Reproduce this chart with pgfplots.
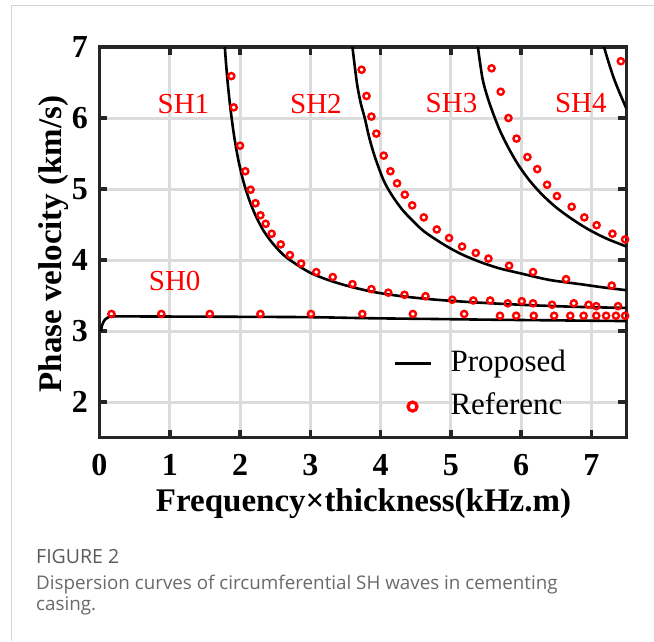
\documentclass[border=0pt]{standalone}
\usepackage{fontspec}
\setmainfont{Liberation Serif}
\newfontfamily\capfont{Open Sans}
\usepackage{pgfplots}
\pgfplotsset{compat=1.18}
\usepackage{pgfplotstable}

\definecolor{gridgray}{HTML}{DCDCDC}
\definecolor{axisgray}{HTML}{262626}
\definecolor{capdark}{HTML}{5A5A5A}
\definecolor{caplight}{HTML}{6A6A6A}
\definecolor{framegray}{HTML}{D4D4D4}

% legend samples: a short line, and a single bold circle
\pgfplotsset{
  lineleg/.style={legend image code/.code={%
      \draw[##1] (0pt,0pt) -- (36pt,0pt);
      \path[draw=none] (0pt,0pt) -- (50pt,0pt);}},
  markleg/.style={legend image code/.code={%
      \path[##1, mark size=4.5pt, mark options={line width=3.2pt}]
        plot[only marks] coordinates {(18pt,0pt)};
      \path[draw=none] (0pt,0pt) -- (56pt,0pt);}},
}

% Proposed dispersion curves (frequency x thickness, phase velocity)
\pgfplotstableread{
x y
0.02 3.00
0.04 3.09
0.07 3.15
0.12 3.19
0.20 3.205
0.60 3.205
1.20 3.203
2.00 3.200
3.00 3.195
3.85 3.18
4.70 3.17
5.50 3.16
6.50 3.15
7.50 3.14
}\curveSHzero

\pgfplotstableread{
x y
1.784 7.00
1.80 6.78
1.83 6.44
1.87 6.08
1.92 5.72
1.98 5.39
2.05 5.10
2.13 4.85
2.22 4.63
2.33 4.42
2.46 4.24
2.62 4.07
2.80 3.94
3.00 3.82
3.25 3.72
3.55 3.63
3.90 3.55
4.30 3.49
4.80 3.44
5.40 3.40
6.10 3.365
6.80 3.34
7.50 3.325
}\curveSHone

\pgfplotstableread{
x y
3.60 7.00
3.63 6.75
3.67 6.45
3.72 6.20
3.775 6.00
3.84 5.72
3.92 5.45
4.04 5.13
4.15 4.93
4.30 4.72
4.45 4.56
4.61 4.41
4.80 4.28
5.00 4.16
5.20 4.06
5.45 3.96
5.70 3.88
6.00 3.81
6.40 3.72
6.84 3.66
7.20 3.61
7.50 3.575
}\curveSHtwo

\pgfplotstableread{
x y
5.385 7.00
5.45 6.56
5.52 6.30
5.60 6.07
5.70 5.82
5.82 5.58
5.96 5.34
6.12 5.12
6.30 4.92
6.50 4.74
6.72 4.58
6.96 4.43
7.22 4.30
7.50 4.19
}\curveSHthree

\pgfplotstableread{
x y
7.18 7.00
7.25 6.77
7.32 6.56
7.40 6.36
7.50 6.13
}\curveSHfour

% Reference solutions
\pgfplotstableread{
x y
0.17 3.24
0.88 3.24
1.57 3.24
2.29 3.24
3.01 3.24
3.74 3.24
4.46 3.24
5.19 3.24
5.70 3.215
5.93 3.215
6.18 3.215
6.47 3.215
6.70 3.215
6.89 3.215
7.07 3.215
7.21 3.215
7.35 3.215
7.48 3.215
}\refSHzero

\pgfplotstableread{
x y
1.876 6.59
1.91 6.15
2.00 5.61
2.075 5.25
2.15 4.99
2.22 4.80
2.29 4.63
2.365 4.51
2.45 4.37
2.58 4.22
2.71 4.07
2.87 3.95
3.085 3.83
3.32 3.76
3.60 3.66
3.87 3.59
4.11 3.54
4.34 3.51
4.64 3.49
5.02 3.44
5.32 3.43
5.56 3.43
5.81 3.39
6.01 3.42
6.17 3.39
6.44 3.37
6.75 3.39
6.96 3.37
7.07 3.35
7.38 3.35
}\refSHone

\pgfplotstableread{
x y
3.73 6.68
3.80 6.31
3.87 6.02
3.94 5.78
4.045 5.47
4.14 5.25
4.235 5.08
4.345 4.92
4.45 4.77
4.615 4.60
4.80 4.43
4.975 4.31
5.16 4.19
5.355 4.10
5.535 4.02
5.83 3.92
6.17 3.83
6.64 3.73
7.29 3.64
}\refSHtwo

\pgfplotstableread{
x y
5.58 6.70
5.71 6.37
5.82 6.00
5.935 5.71
6.09 5.45
6.23 5.28
6.37 5.06
6.51 4.90
6.72 4.75
6.90 4.60
7.075 4.49
7.30 4.37
7.48 4.29
}\refSHthree

\pgfplotstableread{
x y
7.42 6.80
}\refSHfour

\begin{document}
\begin{tikzpicture}
\fill[white] (0,0) rectangle (654pt,-641pt);
\path[use as bounding box] (0,0) rectangle (654pt,-641pt);
\draw[framegray, line width=1pt] (11pt,-641pt) -- (11pt,-5pt) -- (654pt,-5pt);

\begin{axis}[
  at={(99.5pt,-437.5pt)}, anchor=south west,
  scale only axis, width=527pt, height=390.5pt,
  xmin=0, xmax=7.5, ymin=1.5, ymax=7,
  xtick={0,1,...,7}, ytick={2,3,...,7},
  grid=major,
  major grid style={gridgray, line width=3pt},
  axis line style={axisgray, line width=3.5pt},
  tick style={axisgray, line width=3.5pt},
  major tick length=8pt,
  tick align=inside,
  /pgf/number format/assume math mode=true,
  tick label style={font=\fontsize{32}{34}\selectfont\bfseries},
  xticklabel style={inner sep=0pt, yshift=-17pt},
  yticklabel style={inner sep=0pt, xshift=-11.5pt},
  xlabel={Frequency×thickness(kHz.m)},
  ylabel={Phase velocity (km/s)},
  xlabel style={at={(axis description cs:0.501,-0.168)}, anchor=center,
                font=\fontsize{33}{35}\selectfont\bfseries},
  ylabel style={at={(axis description cs:-0.088,0.4955)}, anchor=center,
                font=\fontsize{33}{35}\selectfont\bfseries},
  legend cell align=left,
  legend style={at={(axis description cs:0.557,0.227)}, anchor=north west,
                draw=none, fill=none, inner sep=0pt,
                font=\fontsize{31}{33}\selectfont,
                row sep=14pt, column sep=0pt,
                nodes={inner sep=0pt, text height=22pt, text depth=7pt}},
  curve/.style={black, line width=2.6pt, smooth, no marks},
  refpts/.style={only marks, mark=o, red, mark size=3.1pt,
                 mark options={line width=2.4pt}},
]
\addplot[curve, lineleg] table[x=x, y=y] {\curveSHzero};
\addlegendentry{Proposed}
\addplot[refpts, markleg] table[x=x, y=y] {\refSHzero};
\addlegendentry{Referenc}

\addplot[curve, forget plot] table[x=x, y=y] {\curveSHone};
\addplot[curve, forget plot] table[x=x, y=y] {\curveSHtwo};
\addplot[curve, forget plot] table[x=x, y=y] {\curveSHthree};
\addplot[curve, forget plot] table[x=x, y=y] {\curveSHfour};

\addplot[refpts, forget plot] table[x=x, y=y] {\refSHone};
\addplot[refpts, forget plot] table[x=x, y=y] {\refSHtwo};
\addplot[refpts, forget plot] table[x=x, y=y] {\refSHthree};
\addplot[refpts, forget plot] table[x=x, y=y] {\refSHfour};

\begin{scope}[every node/.style={red, font=\fontsize{29}{31}\selectfont, inner sep=0pt}]
\node at (axis cs:1.07,3.70) {SH0};
\node at (axis cs:1.195,6.20) {SH1};
\node at (axis cs:3.08,6.20) {SH2};
\node at (axis cs:5.01,6.21) {SH3};
\node at (axis cs:6.85,6.21) {SH4};
\end{scope}
\end{axis}

\node[anchor=base west, inner sep=0pt, capdark, font=\capfont\fontsize{19.5}{22}\selectfont] at (36pt,-563.5pt) {FIGURE 2};
\node[anchor=base west, inner sep=0pt, caplight, font=\capfont\fontsize{18.8}{22}\selectfont] at (36pt,-589.5pt) {Dispersion curves of circumferential SH waves in cementing};
\node[anchor=base west, inner sep=0pt, caplight, font=\capfont\fontsize{18.8}{22}\selectfont] at (36pt,-610pt) {casing.};
\end{tikzpicture}
\end{document}
